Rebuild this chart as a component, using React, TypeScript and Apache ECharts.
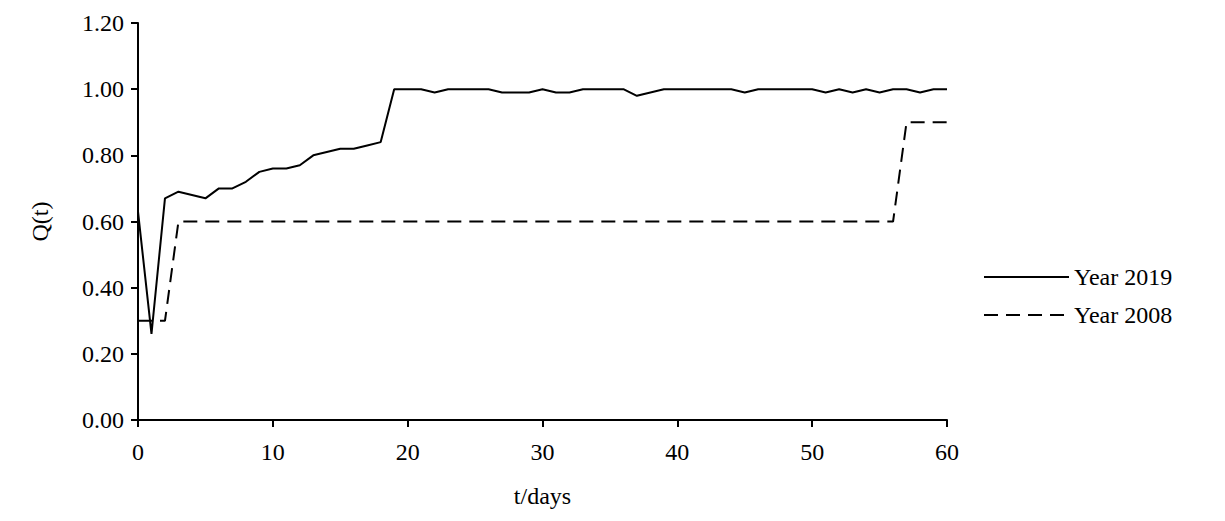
import React, { useEffect, useRef } from 'react';
import * as echarts from 'echarts';

const days = Array.from({ length: 61 }, (_, i) => i);
const year2019 = [
  0.63, 0.26, 0.67, 0.69, 0.68, 0.67, 0.7, 0.7, 0.72, 0.75, 0.76, 0.76, 0.77, 0.8, 0.81, 0.82, 0.82, 0.83, 0.84, 1.0,
  1.0, 1.0, 0.99, 1.0, 1.0, 1.0, 1.0, 0.99, 0.99, 0.99, 1.0, 0.99, 0.99, 1.0, 1.0, 1.0, 1.0, 0.98, 0.99, 1.0,
  1.0, 1.0, 1.0, 1.0, 1.0, 0.99, 1.0, 1.0, 1.0, 1.0, 1.0, 0.99, 1.0, 0.99, 1.0, 0.99, 1.0, 1.0, 0.99, 1.0, 1.0,
];
const year2008 = days.map((d) => (d < 3 ? 0.3 : d < 57 ? 0.6 : 0.9));

const font = '"Liberation Serif", "Times New Roman", serif';

const App: React.FC = () => {
  const chartRef = useRef<HTMLDivElement>(null);

  useEffect(() => {
    const chart = echarts.init(chartRef.current, undefined, { renderer: 'svg' });
    const axisCommon = {
      axisLine: { show: true, lineStyle: { color: '#000', width: 2 } },
      axisTick: { show: true, inside: false, length: 7, lineStyle: { color: '#000', width: 2 } },
      splitLine: { show: false },
      axisLabel: { color: '#000', fontSize: 24, fontFamily: font },
      nameTextStyle: { color: '#000', fontSize: 24, fontFamily: font },
    };
    chart.setOption({
      animation: false,
      grid: { left: 130, right: 270, top: 15, bottom: 88 },
      xAxis: {
        type: 'value', min: 0, max: 60, interval: 10,
        name: 't/days', nameLocation: 'middle', nameGap: 64,
        ...axisCommon,
        axisLabel: { ...axisCommon.axisLabel, margin: 20 },
      },
      yAxis: {
        type: 'value', min: 0, max: 1.2, interval: 0.2,
        name: 'Q(t)', nameLocation: 'middle', nameGap: 86, nameRotate: 90,
        ...axisCommon,
        axisLabel: { ...axisCommon.axisLabel, margin: 14, formatter: (v: number) => v.toFixed(2) },
      },
      legend: {
        orient: 'vertical', left: 970, top: 252, itemWidth: 85, itemHeight: 14, itemGap: 14, itemTextGap: 3,
        itemStyle: { opacity: 0 },
        textStyle: { color: '#000', fontSize: 24, fontFamily: font },
        data: ['Year 2019', 'Year 2008'],
      },
      series: [
        {
          name: 'Year 2019', type: 'line', symbol: 'none',
          data: days.map((d, i) => [d, year2019[i]]),
          lineStyle: { color: '#000', width: 2 },
          itemStyle: { color: '#000' },
        },
        {
          name: 'Year 2008', type: 'line', symbol: 'none',
          data: days.map((d, i) => [d, year2008[i]]),
          lineStyle: { color: '#000', width: 2, type: [14, 8] },
          itemStyle: { color: '#000' },
        },
      ],
    });
    return () => chart.dispose();
  }, []);

  return <div ref={chartRef} style={{ width: 1209, height: 505 }} />;
};

export default App;
